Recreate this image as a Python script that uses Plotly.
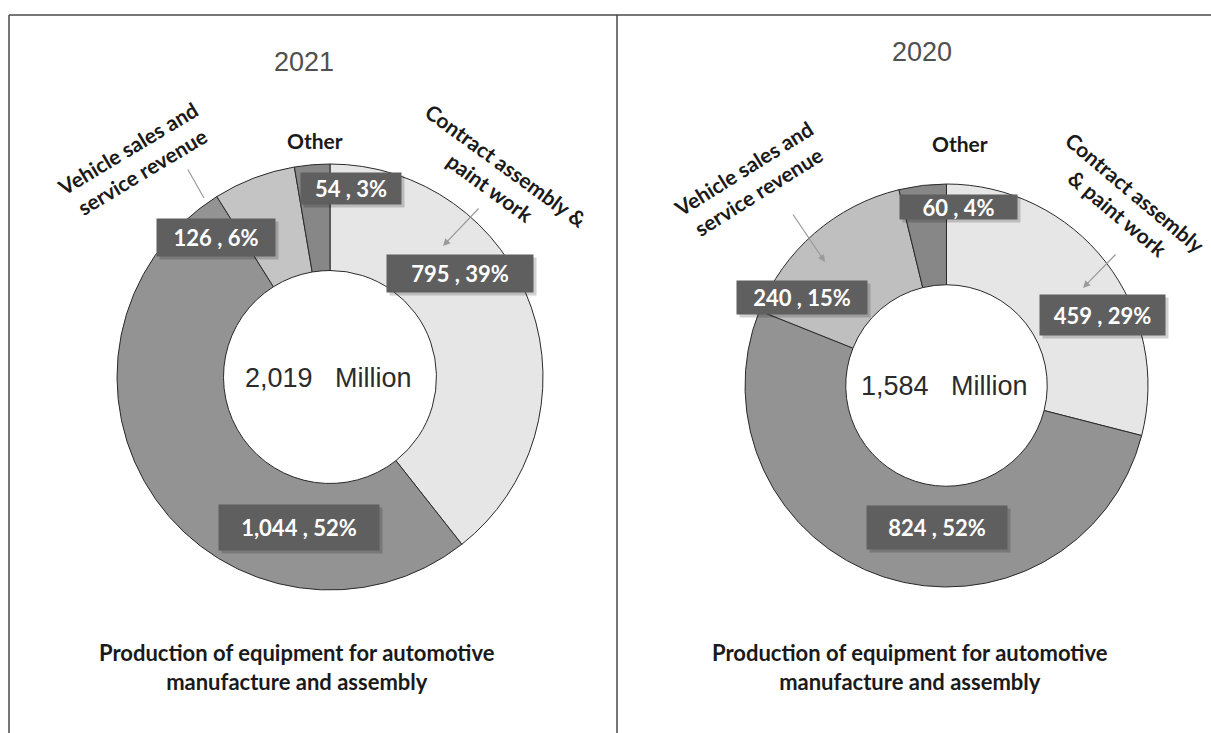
import plotly.graph_objects as go

W, H = 1211, 733

# ---------------- data ----------------
categories = ["Contract assembly & paint work", "Production of equipment", "Vehicle sales and service revenue", "Other"]
years = ["2021", "2020"]
values_2021 = [795, 1044, 126, 54]
values_2020 = [459, 824, 240, 60]
pct_2021 = [39, 52, 6, 3]
pct_2020 = [29, 52, 15, 4]
totals = ["2,019", "1,584"]
footer = "Production of equipment for automotive<br>manufacture and assembly"

colors_2021 = ["#e6e6e6", "#939393", "#c4c4c4", "#878787"]
colors_2020 = ["#e6e6e6", "#939393", "#bfbfbf", "#878787"]


def px(x):
    return x / W


def py(y):
    return 1 - y / H


fig = go.Figure()

# pies: (center x, center y, radius) in pixels
pie_geo = [(330, 377, 213), (946.5, 385.5, 201.5)]
for vals, cols, (cx, cy, r) in zip([values_2021, values_2020], [colors_2021, colors_2020], pie_geo):
    fig.add_trace(go.Pie(
        labels=categories, values=vals, sort=False, direction="clockwise", rotation=0,
        hole=0.5, textinfo="none", hoverinfo="label+value+percent",
        marker=dict(colors=cols, line=dict(color="#2a2a2a", width=1)),
        domain=dict(x=[px(cx - r), px(cx + r)], y=[py(cy + r), py(cy - r)]),
        showlegend=False,
    ))

ann = []

# value boxes: per pie, per category (x, y, w, h) in pixels
box_geo = [
    [(460, 273, 146, 37), (299, 527, 160, 45), (216, 237, 118, 37), (351, 188, 100, 31)],
    [(1102, 315, 125, 40), (937, 527, 140, 43), (802, 297, 130, 33), (958, 207, 117, 24)],
]
for vals, pcts, geo in zip([values_2021, values_2020], [pct_2021, pct_2020], box_geo):
    for v, p, (bx, by, bw, bh) in zip(vals, pcts, geo):
        # shadow
        ann.append(dict(x=px(bx + 3), y=py(by + 3), xref="paper", yref="paper", text="",
                        showarrow=False, width=bw, height=bh, borderpad=0,
                        bgcolor="rgba(0,0,0,0.18)", xanchor="center", yanchor="middle"))
        ann.append(dict(x=px(bx), y=py(by), xref="paper", yref="paper",
                        text=f"<b>{v:,} , {p}%</b>", showarrow=False,
                        width=bw, height=bh, borderpad=0, bgcolor="#5f5f5f",
                        font=dict(family="Lato, Open Sans, sans-serif", size=22, color="white"),
                        xanchor="center", yanchor="middle", align="center", valign="middle"))

# category callout labels
cat_font = dict(family="Lato, Open Sans, sans-serif", size=21, color="#1a1a1a")
callouts = [
    ("<b>Vehicle sales and<br>service revenue</b>", 134, 160, -31),
    ("<b>Other</b>", 315, 140, 0),
    ("<b>Contract assembly &<br>paint work</b>", 498, 176, 36),
    ("<b>Vehicle sales and<br>service revenue</b>", 750, 180, -32),
    ("<b>Other</b>", 960, 143, 0),
    ("<b>Contract assembly<br>& paint work</b>", 1127, 203, 40),
]
for t, x, y, a in callouts:
    ann.append(dict(x=px(x), y=py(y), xref="paper", yref="paper", text=t, showarrow=False,
                    textangle=a, font=cat_font, xanchor="center", yanchor="middle", align="center"))

# pointer lines/arrows: head (x,y), tail (x,y), arrowhead
pointers = [
    ((204, 198), (187, 168), 0),
    ((443, 246), (480, 207), 2),
    ((825, 262), (792, 213), 2),
    ((1083, 288), (1117, 253), 2),
]
for (hx, hy), (tx, ty), ah in pointers:
    ann.append(dict(x=px(hx), y=py(hy), xref="paper", yref="paper", text="",
                    showarrow=True, ax=tx - hx, ay=ty - hy, axref="pixel", ayref="pixel",
                    arrowhead=ah, arrowsize=1.2, arrowwidth=1.2, arrowcolor="#9a9a9a", standoff=0))

# center totals
for tot, (cx, cy, r) in zip(totals, pie_geo):
    ann.append(dict(x=px(cx - 2), y=py(cy + 1), xref="paper", yref="paper",
                    text=f"{tot}\u00a0\u00a0\u00a0Million", showarrow=False,
                    font=dict(family="Liberation Sans, Arial, sans-serif", size=27, color="#2b2b2b"),
                    xanchor="center", yanchor="middle"))

# year titles
for yr, (x, y) in zip(years, [(304, 62), (922, 52)]):
    ann.append(dict(x=px(x), y=py(y), xref="paper", yref="paper", text=yr, showarrow=False,
                    font=dict(family="Liberation Sans, Arial, sans-serif", size=27, color="#505050"),
                    xanchor="center", yanchor="middle"))

# footers
for x in [297, 910]:
    ann.append(dict(x=px(x), y=py(667), xref="paper", yref="paper", text=f"<b>{footer}</b>",
                    showarrow=False, align="center",
                    font=dict(family="Lato, Open Sans, sans-serif", size=22, color="#1a1a1a"),
                    xanchor="center", yanchor="middle"))

# panel borders
line = dict(color="#4a4a4a", width=1.5)
shapes = [
    dict(type="line", xref="paper", yref="paper", x0=px(9), x1=1, y0=py(15), y1=py(15), line=line),
    dict(type="line", xref="paper", yref="paper", x0=px(9), x1=px(9), y0=py(15), y1=0, line=line),
    dict(type="line", xref="paper", yref="paper", x0=px(617), x1=px(617), y0=py(15), y1=0, line=line),
]

fig.update_layout(
    width=W, height=H, margin=dict(l=0, r=0, t=0, b=0),
    paper_bgcolor="white", plot_bgcolor="white",
    annotations=ann, shapes=shapes,
)

fig.write_html("out.html")
